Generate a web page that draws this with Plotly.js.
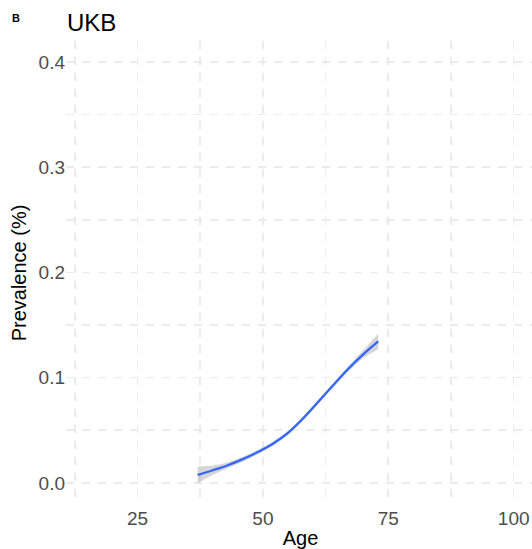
<!DOCTYPE html>
<html>
<head>
<meta charset="utf-8">
<script src="https://cdn.plot.ly/plotly-3.0.1.min.js"></script>
<style>
html,body{margin:0;padding:0;overflow:hidden;background:#fff;}
#chart{width:540px;height:549px;}
</style>
</head>
<body>
<div id="chart"></div>
<script>
var ages    = [37, 40, 43, 46, 49, 52, 55, 58, 61, 64, 67, 70, 73];
var prev    = [0.0076, 0.0120, 0.0168, 0.0226, 0.0293, 0.0372, 0.0475, 0.0612, 0.0768, 0.0928, 0.1083, 0.1222, 0.1345];
var ciLow   = [-0.0004, 0.0075, 0.0140, 0.0204, 0.0273, 0.0352, 0.0455, 0.0592, 0.0748, 0.0908, 0.1058, 0.1184, 0.1270];
var ciHigh  = [0.0156, 0.0165, 0.0196, 0.0248, 0.0313, 0.0392, 0.0495, 0.0632, 0.0788, 0.0948, 0.1108, 0.1260, 0.1420];
var xTicks  = [25, 50, 75, 100];
var yTicks  = [0.0, 0.1, 0.2, 0.3, 0.4];
var yTickText = ["0.0", "0.1", "0.2", "0.3", "0.4"];

var FONT = "Liberation Sans, Arial, sans-serif";
var GRID = "#EBEBEB";

var traces = [
  {x: ages, y: ciHigh, type: "scatter", mode: "lines", line: {width: 0, shape: "spline"}, hoverinfo: "skip", showlegend: false},
  {x: ages, y: ciLow, type: "scatter", mode: "lines", line: {width: 0, shape: "spline"}, fill: "tonexty", fillcolor: "rgba(153,153,153,0.4)", hoverinfo: "skip", showlegend: false},
  {x: ages, y: prev, type: "scatter", mode: "lines", line: {color: "#3366FF", width: 2.3, shape: "spline"}, showlegend: false}
];

var layout = {
  width: 540, height: 549,
  margin: {l: 66, r: 5, t: 41, b: 44},
  paper_bgcolor: "#fff", plot_bgcolor: "#fff",
  font: {family: FONT, color: "#000"},
  title: {text: "UKB", xref: "container", x: 67/540, xanchor: "left", y: 1 - 23/549, yanchor: "middle", font: {size: 24, family: FONT, color: "#000"}},
  xaxis: {
    range: [10.75, 104.25], tickvals: xTicks, ticktext: xTicks.map(String),
    showgrid: true, gridcolor: GRID, gridwidth: 1.6, griddash: "8px,8px",
    minor: {tickvals: [12.5, 37.5, 62.5, 87.5], showgrid: true, gridcolor: GRID, gridwidth: 1.6, griddash: "8px,8px"},
    zeroline: false, showline: false, ticks: "",
    tickfont: {size: 19, color: "#4D4D4D", family: FONT},
    title: {text: "Age", font: {size: 20, color: "#000", family: FONT}, standoff: 2},
    automargin: false
  },
  yaxis: {
    range: [-0.021, 0.42], tickvals: yTicks, ticktext: yTickText,
    showgrid: true, gridcolor: GRID, gridwidth: 1.6, griddash: "8px,8px",
    minor: {tickvals: [0.05, 0.15, 0.25, 0.35], showgrid: true, gridcolor: GRID, gridwidth: 1.6, griddash: "8px,8px"},
    zeroline: false, showline: false, ticks: "",
    tickfont: {size: 19, color: "#4D4D4D", family: FONT},
    title: {text: "Prevalence (%)", font: {size: 20, color: "#000", family: FONT}, standoff: 6},
    automargin: false
  },
  annotations: [
    {text: "<b>B</b>", xref: "paper", yref: "paper", x: (16-66)/469, y: (505-18)/464, xanchor: "center", yanchor: "middle", showarrow: false, font: {size: 11, family: FONT, color: "#000"}}
  ]
};

Plotly.newPlot("chart", traces, layout, {displayModeBar: false, staticPlot: true});
</script>
</body>
</html>
